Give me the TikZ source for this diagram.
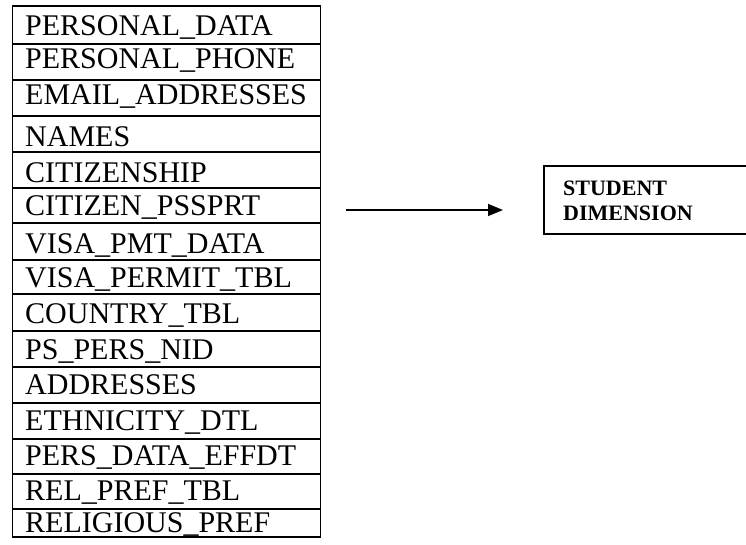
\documentclass[tikz,border=0pt]{standalone}
\usepackage{fontspec}
\setmainfont{Liberation Serif}
\usetikzlibrary{arrows.meta}
\begin{document}
\begin{tikzpicture}[x=1pt,y=-1pt,
  cell/.style={draw=black,line width=1.8pt,minimum width=308pt,inner sep=0pt,anchor=north west},
  rowtext/.style={anchor=base west,inner sep=0pt,font=\fontsize{30}{36}\selectfont},
  dimbox/.style={draw=black,line width=1.8pt,minimum width=230pt,minimum height=68pt,inner sep=0pt,anchor=north west},
  dimtext/.style={anchor=base west,inner sep=0pt,align=left,font=\fontsize{22}{25}\selectfont\bfseries},
  flow/.style={line width=1.5pt,-{Triangle[length=15pt,width=12pt]}}]
\useasboundingbox (0,0) rectangle (746,545);
% table cells: top edge / bottom edge / baseline / text
\foreach \i/\ya/\yb/\bl/\txt in {
  1/5/43/36/PERSONAL\_DATA,
  2/43/79/69/PERSONAL\_PHONE,
  3/79/115/105/EMAIL\_ADDRESSES,
  4/115/151/147/NAMES,
  5/151/187/183/CITIZENSHIP,
  6/187/222/215/CITIZEN\_PSSPRT,
  7/222/259/253/VISA\_PMT\_DATA,
  8/259/293/287/VISA\_PERMIT\_TBL,
  9/293/330/323/COUNTRY\_TBL,
  10/330/366/359/PS\_PERS\_NID,
  11/366/402/394/ADDRESSES,
  12/402/438/430/ETHNICITY\_DTL,
  13/438/473/465/PERS\_DATA\_EFFDT,
  14/473/508/500/REL\_PREF\_TBL,
  15/508/536/532/RELIGIOUS\_PREF}{
  \pgfmathsetmacro{\h}{\yb-\ya}
  \node[cell,minimum height=\h pt] (cell\i) at (11.5,\ya) {};
  \node[rowtext] (row\i) at (25,\bl) {\txt};
}
% target dimension box (runs past the right edge)
\node[dimbox] (dim) at (543,165) {};
\node[dimtext] (dimlabel) at (563,221) {STUDENT\\DIMENSION};
% arrow
\coordinate (arrS) at (346,210);
\coordinate (arrE) at (503,210);
\draw[flow] (arrS) -- (arrE);
\end{tikzpicture}
\end{document}
